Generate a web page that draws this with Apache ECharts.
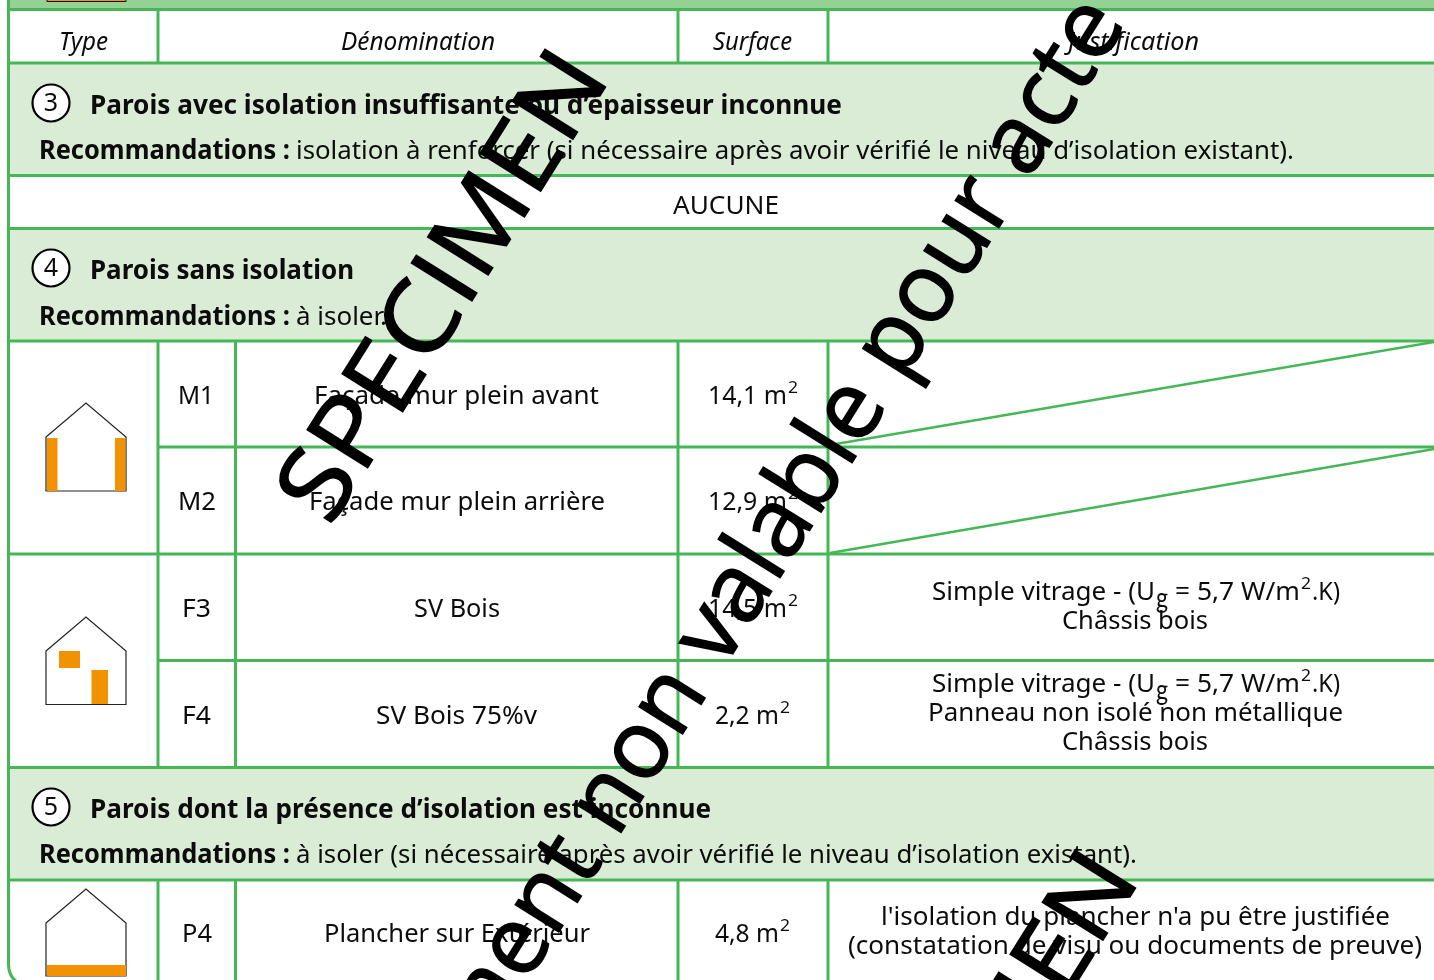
<!DOCTYPE html>
<html><head><meta charset="utf-8">
<style>html,body{margin:0;padding:0;background:#fff}#c{width:1434px;height:980px}</style>
<script src="https://cdn.jsdelivr.net/npm/echarts@6/dist/echarts.min.js"></script>
</head><body><div id="c"></div>
<script>
// ---- content ----
const columnHeaders = ['Type','Dénomination','Surface','Justification'];
const sectionNumbers = ['3','4','5'];
const sectionTitles = ['Parois avec isolation insuffisante ou d’épaisseur inconnue','Parois sans isolation','Parois dont la présence d’isolation est inconnue'];
const recoLabel = 'Recommandations :';
const sectionRecos = ['isolation à renforcer (si nécessaire après avoir vérifié le niveau d’isolation existant).','à isoler.','à isoler (si nécessaire après avoir vérifié le niveau d’isolation existant).'];
const noneLabel = 'AUCUNE';
const codes = ['M1','M2','F3','F4','P4'];
const names = ['Façade mur plein avant','Façade mur plein arrière','SV Bois','SV Bois 75%v','Plancher sur Extérieur'];
const surfaces = ['14,1 m','12,9 m','14,5 m','2,2 m','4,8 m'];
const glazing = ['Simple vitrage - (U','g','= 5,7 W/m','2','.K)'];
const frameNote = 'Châssis bois';
const panelNote = 'Panneau non isolé non métallique';
const floorNotes = ['l\'isolation du plancher n\'a pu être justifiée','(constatation de visu ou documents de preuve)'];
const watermarks = ['SPECIMEN','Document non valable pour acte','SPECIMEN'];

// ---- style / layout ----
const GREEN='#45b757', PALE='#daecd6', BAND='#93d194', ORANGE='#f39200', INK='#0c0c0c';
const FONT='"Noto Sans"', SIZE=26;
const W=1434, LEFT=8.5;
const X={a:158,b:235.5,c:678,d:828};
const Y={top:9.5,head:63,s3:175.5,none:228.5,s4:341,m:447,m2:554,f:660.5,s5:767.5,p:880};
const els=[];
const mc=document.createElement('canvas').getContext('2d');
function T(text,x0,x1,y,o={}){
  const font=`${o.i?'italic ':''}${o.b?'bold ':''}${o.s||SIZE}px ${o.f||FONT}`;
  mc.font=font; const w=mc.measureText(text).width;
  els.push({type:'text',x:x0,y:y+2,scaleX:(x1-x0)/w,z:5,style:{text:text,font:font,fill:INK,align:'left',verticalAlign:'middle'}});
}
function L(x1,y1,x2,y2,w=3){els.push({type:'line',z:3,shape:{x1,y1,x2,y2},style:{stroke:GREEN,lineWidth:w}});}
function R(x,y,w,h,fill,z=1,o={}){els.push({type:'rect',z,shape:{x,y,width:w,height:h},style:Object.assign({fill},o)});}
function house(t,b){els.push({type:'polygon',z:2,shape:{points:[[46,t+34],[86,t],[126,t+34],[126,b],[46,b]]},style:{fill:'#fff',stroke:'#222',lineWidth:1.2}});}
function circle(cy,n){els.push({type:'circle',z:4,shape:{cx:51,cy,r:18.5},style:{fill:'#fff',stroke:'#000',lineWidth:2.2}});
  els.push({type:'text',x:51,y:cy+1,z:5,style:{text:n,font:`25px ${FONT}`,fill:INK,align:'center',verticalAlign:'middle'}});}

// fills
R(LEFT,0,W-LEFT,Y.top,BAND);
R(47,-6,79,7.5,ORANGE,2,{stroke:'#111',lineWidth:1});
[[Y.head,Y.s3],[Y.none,Y.s4],[Y.s5,Y.p]].forEach(([a,b])=>R(LEFT,a,W-LEFT,b-a,PALE));
// horizontals
[Y.top,Y.head,Y.s3,Y.none,Y.s4,Y.m2,Y.s5,Y.p].forEach(y=>L(LEFT-1,y,W,y));
[Y.m,Y.f].forEach(y=>L(X.a,y,W,y));
// verticals
[[Y.top,Y.head],[Y.s4,Y.s5],[Y.p,980]].forEach(([a,b])=>{L(X.a,a,X.a,b);L(X.c,a,X.c,b);L(X.d,a,X.d,b);});
[[Y.s4,Y.s5],[Y.p,980]].forEach(([a,b])=>L(X.b,a,X.b,b));
L(LEFT,0,LEFT,964);
els.push({type:'bezierCurve',z:3,shape:{x1:LEFT,y1:964,cpx1:LEFT,cpy1:976,x2:17,y2:982},style:{fill:'none',stroke:GREEN,lineWidth:3}});
// diagonals
L(830,445,W,342,2.5); L(830,553,W,449,2.5);

// houses
house(403,491); R(47,438,10.5,53,ORANGE,3); R(115,438,10.5,53,ORANGE,3);
house(617,704.5); R(59,651,21,17,ORANGE,3); R(91.5,670,16.5,34,ORANGE,3);
house(889,976); R(47,965,79,11,ORANGE,3);

// headers
T(columnHeaders[0],59,108,41,{i:1}); T(columnHeaders[1],341,495,41,{i:1});
T(columnHeaders[2],713,792,41,{i:1}); T(columnHeaders[3],1068,1199,41,{i:1});
// sections
const secY=[[105,150],[270,316],[809,854]], recoEnd=[1294,387,1137], titleEnd=[842,354,711];
sectionTitles.forEach((t,i)=>{
  circle(secY[i][0]-2,sectionNumbers[i]);
  T(t,90,titleEnd[i],secY[i][0],{b:1});
  T(recoLabel,39,290,secY[i][1],{b:1});
  T(sectionRecos[i],296,recoEnd[i],secY[i][1]);
});
T(noneLabel,673,779,205);
// rows
const rowY=[395,501,608,715,933], codeX=[[178,214],[178,216],[182,211],[182,211],[182,212]];
const nameX=[[314,599],[309,605],[414,500],[376,537],[324,590]];
const surfX=[[708,787],[708,787],[708,787],[715,779],[715,779]];
codes.forEach((c,i)=>{
  T(c,codeX[i][0],codeX[i][1],rowY[i]);
  T(names[i],nameX[i][0],nameX[i][1],rowY[i]);
  T(surfaces[i],surfX[i][0],surfX[i][1],rowY[i]);
  T('2',surfX[i][1]+1,surfX[i][1]+11,rowY[i]-9,{s:16});
});
function glaze(y){
  T(glazing[0],932,1155,y); T(glazing[1],1156,1168,y+6,{s:28,f:'Lato'});
  T(glazing[2],1175,1300,y); T(glazing[3],1301,1311,y-9,{s:16}); T(glazing[4],1312,1340,y);
}
glaze(591); T(frameNote,1062,1208,620);
glaze(683); T(panelNote,928,1343,712); T(frameNote,1062,1208,741);
T(floorNotes[0],881,1390,916); T(floorNotes[1],848,1422,945);

// watermarks
const ANG=58*Math.PI/180;
function WM(t,x,y,size,sx){els.push({type:'text',x,y,rotation:ANG,scaleX:sx,z:9,style:{text:t,font:`${size}px "Open Sans"`,fill:'#000',stroke:'#000',lineWidth:1.5,align:'right',verticalAlign:'middle'}});}
WM(watermarks[0],587,63,100,1.1); WM(watermarks[1],1104,8,96,0.995); WM(watermarks[2],1117,864,100,1.1);

const chart=echarts.init(document.getElementById('c'),null,{renderer:'canvas',width:1434,height:980});
chart.setOption({animation:false,backgroundColor:'#fff',graphic:{elements:els}});
</script></body></html>
